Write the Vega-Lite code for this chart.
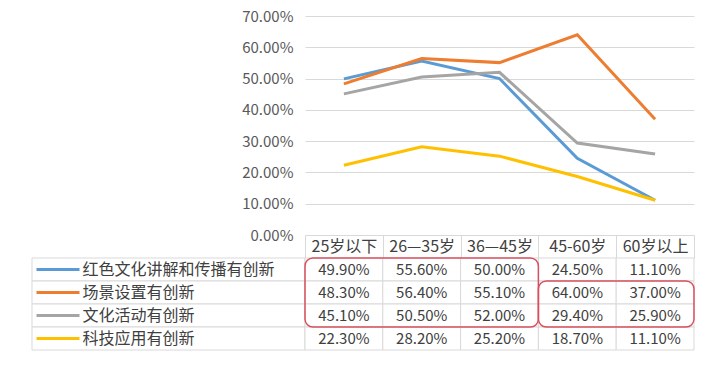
{
  "$schema": "https://vega.github.io/schema/vega-lite/v6.json",
  "background": "white",
  "padding": {"left": 31, "top": 9, "right": 5, "bottom": 5},
  "config": {"view": {"stroke": null}, "font": "Noto Sans CJK SC"},
  "datasets": {
    "vals": [
      {"age": "25岁以下", "series": "红色文化讲解和传播有创新", "value": 0.499},
      {"age": "26—35岁", "series": "红色文化讲解和传播有创新", "value": 0.556},
      {"age": "36—45岁", "series": "红色文化讲解和传播有创新", "value": 0.500},
      {"age": "45-60岁", "series": "红色文化讲解和传播有创新", "value": 0.245},
      {"age": "60岁以上", "series": "红色文化讲解和传播有创新", "value": 0.111},
      {"age": "25岁以下", "series": "场景设置有创新", "value": 0.483},
      {"age": "26—35岁", "series": "场景设置有创新", "value": 0.564},
      {"age": "36—45岁", "series": "场景设置有创新", "value": 0.551},
      {"age": "45-60岁", "series": "场景设置有创新", "value": 0.640},
      {"age": "60岁以上", "series": "场景设置有创新", "value": 0.370},
      {"age": "25岁以下", "series": "文化活动有创新", "value": 0.451},
      {"age": "26—35岁", "series": "文化活动有创新", "value": 0.505},
      {"age": "36—45岁", "series": "文化活动有创新", "value": 0.520},
      {"age": "45-60岁", "series": "文化活动有创新", "value": 0.294},
      {"age": "60岁以上", "series": "文化活动有创新", "value": 0.259},
      {"age": "25岁以下", "series": "科技应用有创新", "value": 0.223},
      {"age": "26—35岁", "series": "科技应用有创新", "value": 0.282},
      {"age": "36—45岁", "series": "科技应用有创新", "value": 0.252},
      {"age": "45-60岁", "series": "科技应用有创新", "value": 0.187},
      {"age": "60岁以上", "series": "科技应用有创新", "value": 0.111}
    ],
    "series": [
      {"series": "红色文化讲解和传播有创新"},
      {"series": "场景设置有创新"},
      {"series": "文化活动有创新"},
      {"series": "科技应用有创新"}
    ],
    "hl": [
      {"c1": "25岁以下", "c2": "36—45岁", "r1": "红色文化讲解和传播有创新", "r2": "文化活动有创新"},
      {"c1": "45-60岁", "c2": "60岁以上", "r1": "场景设置有创新", "r2": "文化活动有创新"}
    ]
  },
  "columns": 2,
  "align": "each",
  "bounds": "flush",
  "spacing": {"row": 23, "column": 0},
  "resolve": {"scale": {"x": "independent", "y": "independent", "color": "independent"}},
  "concat": [
    {
      "width": 273, "height": 219,
      "data": {"values": []},
      "mark": "point"
    },
    {
      "width": 389, "height": 219,
      "data": {"name": "vals"},
      "mark": {"type": "line", "strokeWidth": 3},
      "encoding": {
        "x": {
          "field": "age", "type": "nominal",
          "scale": {"domain": ["25岁以下", "26—35岁", "36—45岁", "45-60岁", "60岁以上"], "paddingInner": 0, "paddingOuter": 0},
          "axis": {"title": null, "orient": "bottom", "tickBand": "extent", "tickSize": 23, "tickColor": "#d9d9d9", "domain": false, "labelAngle": 0, "labelPadding": -20, "labelFontSize": 16, "labelColor": "#404040", "labelFont": "Noto Sans CJK SC"}
        },
        "y": {
          "field": "value", "type": "quantitative",
          "scale": {"domain": [0, 0.7], "nice": false},
          "axis": {"title": null, "values": [0, 0.1, 0.2, 0.3, 0.4, 0.5, 0.6, 0.7], "format": ".2%", "domain": false, "ticks": false, "labelPadding": 12, "gridColor": "#d9d9d9", "labelColor": "#595959", "labelFontSize": 15, "labelFont": "Noto Sans CJK SC"}
        },
        "color": {
          "field": "series", "type": "nominal",
          "scale": {"domain": ["红色文化讲解和传播有创新", "场景设置有创新", "文化活动有创新", "科技应用有创新"], "range": ["#5B9BD5", "#ED7D31", "#A5A5A5", "#FFC000"]},
          "legend": null
        }
      }
    },
    {
      "width": 273, "height": 92,
      "data": {"name": "series"},
      "mark": {"type": "rect", "fill": "white", "stroke": "#d9d9d9", "strokeWidth": 1},
      "encoding": {
        "y": {
          "field": "series", "type": "nominal",
          "scale": {"domain": ["红色文化讲解和传播有创新", "场景设置有创新", "文化活动有创新", "科技应用有创新"], "paddingInner": 0, "paddingOuter": 0},
          "axis": {
            "title": null, "orient": "left", "domain": false, "offset": -4,
            "tickSize": -43, "tickWidth": 3,
            "tickColor": {"condition": [
              {"test": "datum.value === '红色文化讲解和传播有创新'", "value": "#5B9BD5"},
              {"test": "datum.value === '场景设置有创新'", "value": "#ED7D31"},
              {"test": "datum.value === '文化活动有创新'", "value": "#A5A5A5"}
            ], "value": "#FFC000"},
            "labelAlign": "left", "labelPadding": -3, "labelLimit": 0, "labelOverlap": false, "labelFontSize": 16, "labelColor": "#404040", "labelFont": "Noto Sans CJK SC", "labelBaseline": "middle"
          }
        }
      }
    },
    {
      "width": 389, "height": 92,
      "layer": [
        {
          "data": {"name": "vals"},
          "mark": {"type": "rect", "fill": "white", "stroke": "#d9d9d9", "strokeWidth": 1},
          "encoding": {
            "x": {"field": "age", "type": "nominal", "scale": {"domain": ["25岁以下", "26—35岁", "36—45岁", "45-60岁", "60岁以上"], "paddingInner": 0, "paddingOuter": 0}, "axis": null},
            "y": {"field": "series", "type": "nominal", "scale": {"domain": ["红色文化讲解和传播有创新", "场景设置有创新", "文化活动有创新", "科技应用有创新"], "paddingInner": 0, "paddingOuter": 0}, "axis": null}
          }
        },
        {
          "data": {"name": "vals"},
          "mark": {"type": "text", "fontSize": 15, "color": "#404040", "font": "Noto Sans CJK SC"},
          "encoding": {
            "x": {"field": "age", "type": "nominal", "axis": null},
            "y": {"field": "series", "type": "nominal", "axis": null},
            "text": {"field": "value", "type": "quantitative", "format": ".2%"}
          }
        },
        {
          "data": {"name": "hl"},
          "mark": {"type": "rect", "fill": "white", "fillOpacity": 0, "stroke": "#d8505e", "strokeWidth": 1.5, "cornerRadius": 8},
          "encoding": {
            "x": {"field": "c1", "type": "nominal", "bandPosition": 0, "axis": null},
            "x2": {"field": "c2", "bandPosition": 1},
            "y": {"field": "r1", "type": "nominal", "bandPosition": 0, "axis": null},
            "y2": {"field": "r2", "bandPosition": 1}
          }
        }
      ]
    }
  ]
}
